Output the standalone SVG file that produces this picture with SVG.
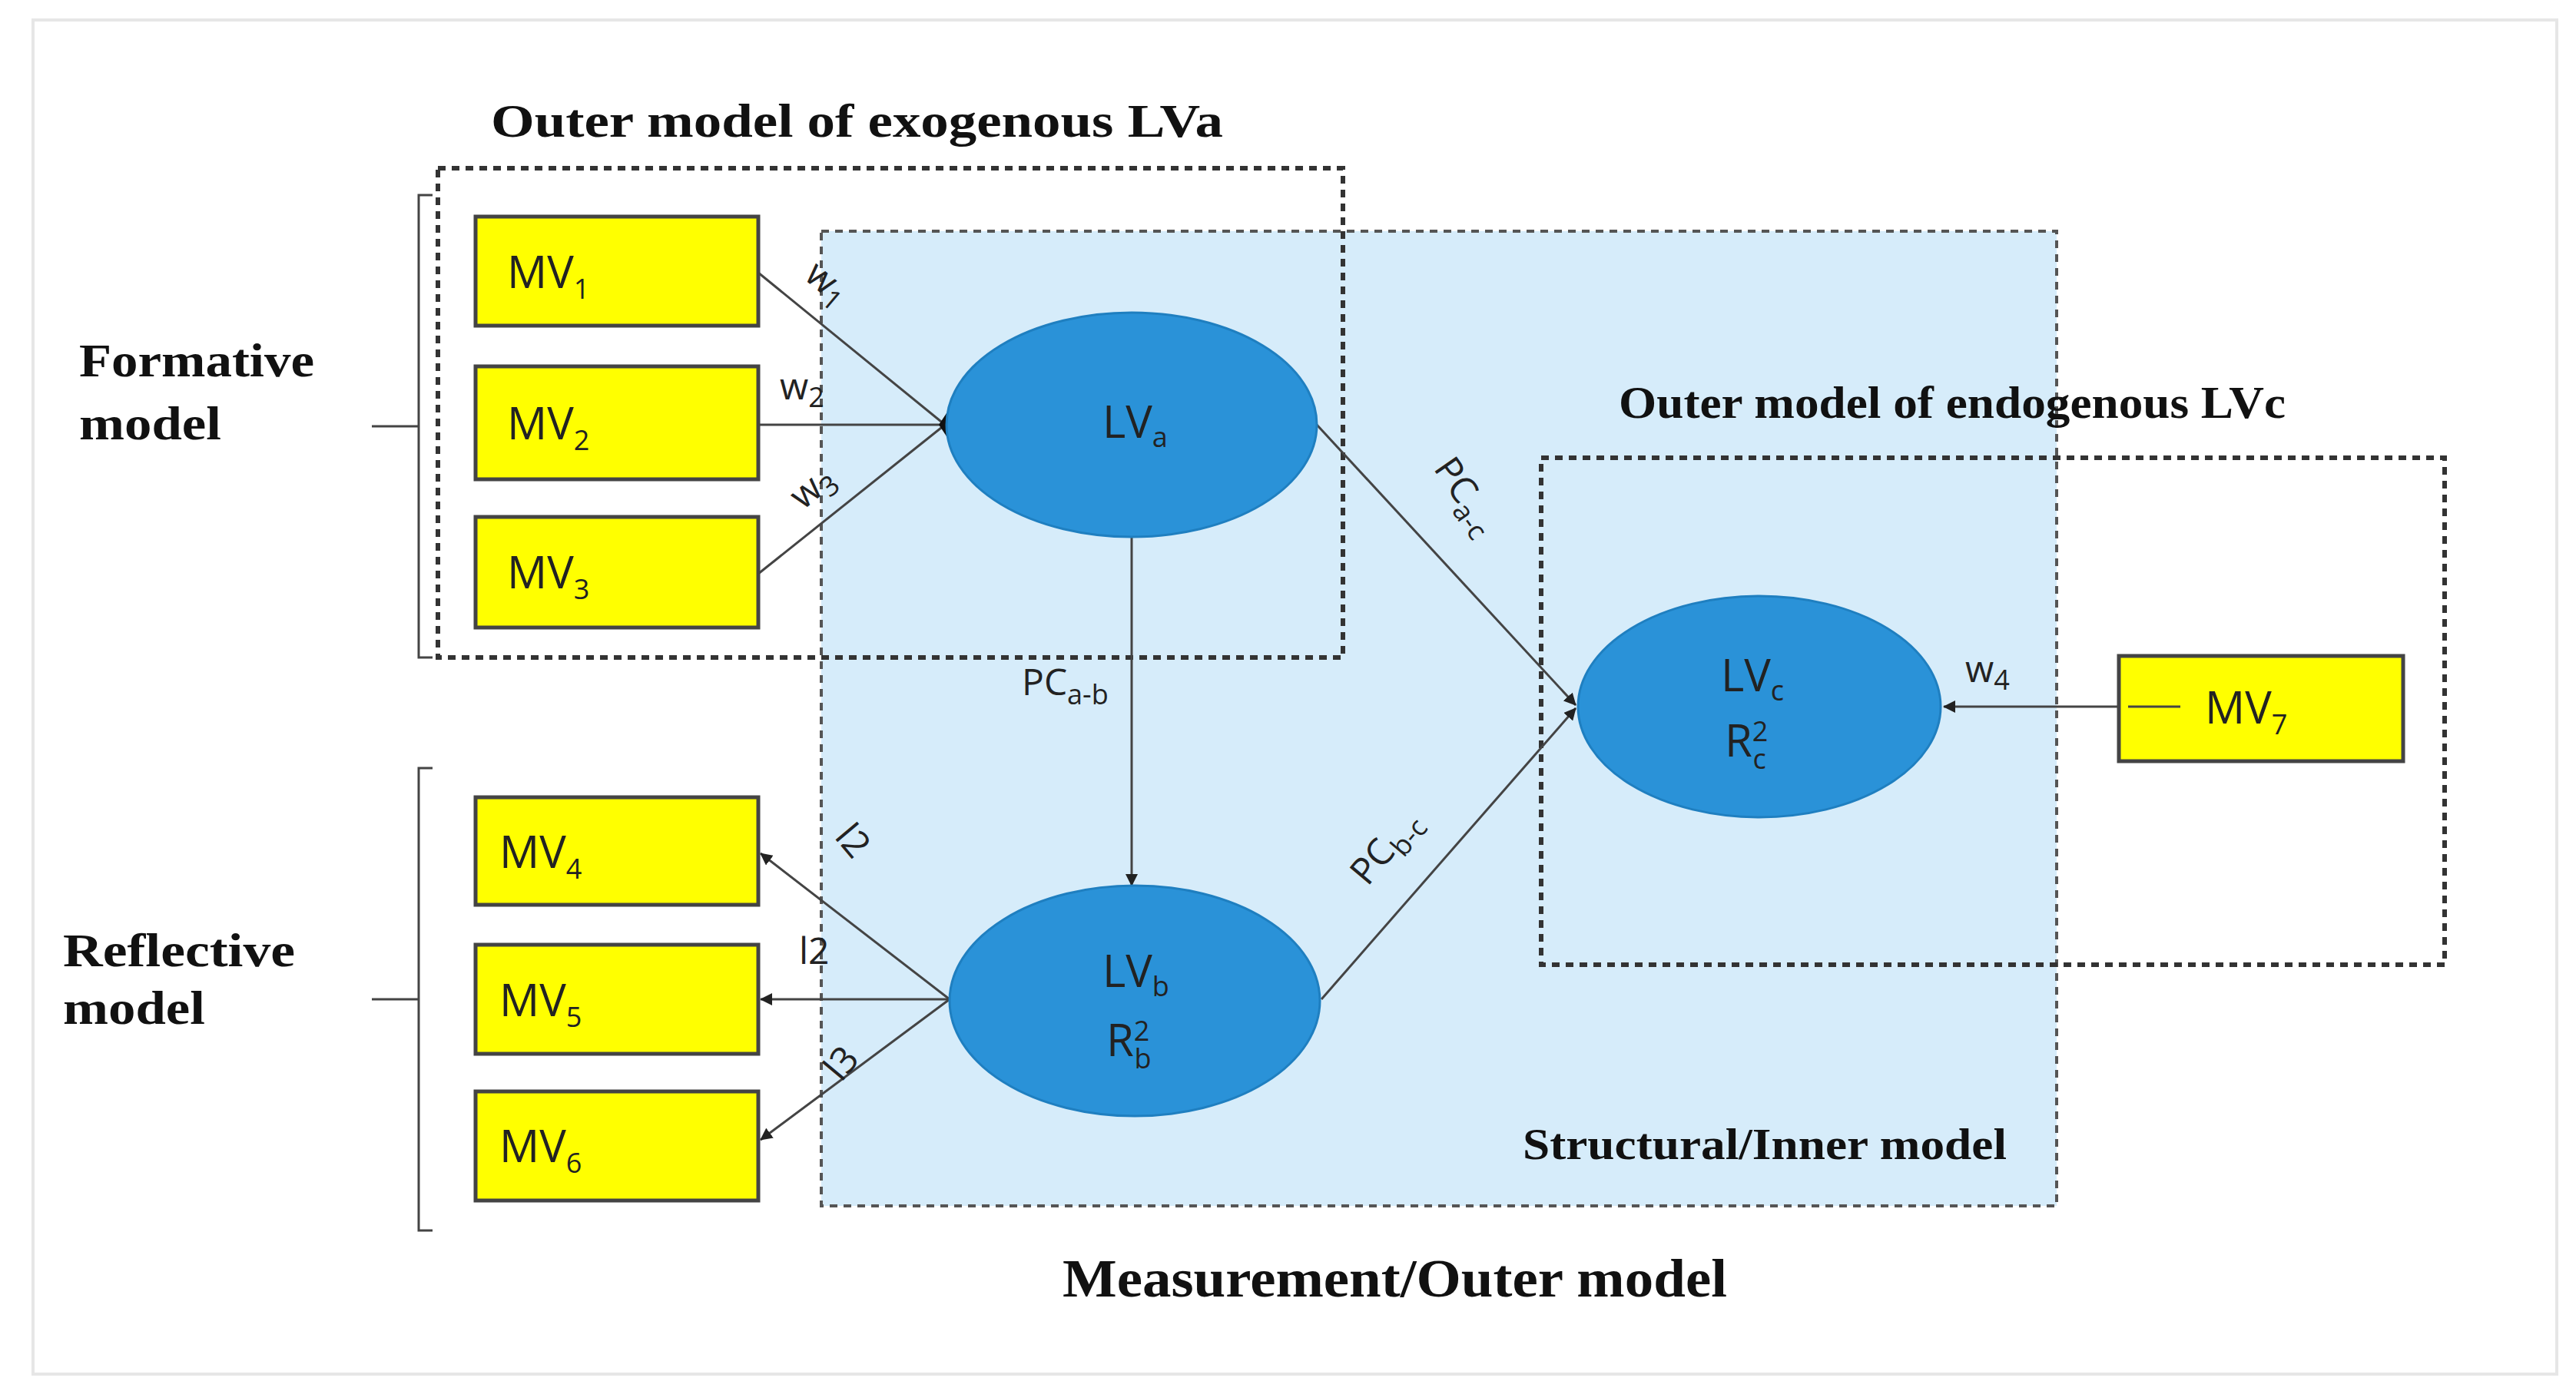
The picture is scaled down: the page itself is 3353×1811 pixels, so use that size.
<svg xmlns="http://www.w3.org/2000/svg" width="3353" height="1811" viewBox="0 0 3353 1811">
<style>
.t{font-family:"Liberation Serif",serif;font-weight:bold;fill:#111}
.mv{fill:#ffff00;stroke:#444;stroke-width:5}
.mvt{font-family:"Open Sans","Liberation Sans",sans-serif;font-size:58px;fill:#222}
.sub{font-size:36px}
.lv{fill:#2a92d8;stroke:#1f7fc0;stroke-width:3}
.box{fill:none;stroke:#333;stroke-width:6;stroke-dasharray:10 8}
.c{stroke:#444;stroke-width:3;fill:none}
.lb{font-family:"Open Sans","Liberation Sans",sans-serif;font-size:48px;fill:#222}
</style>
<defs>
<marker id="a2" markerWidth="16" markerHeight="16" refX="15" refY="8" orient="auto" markerUnits="userSpaceOnUse"><path d="M0,0 L16,8 L0,16 z" fill="#222"/></marker>
</defs>
<rect x="0" y="0" width="3353" height="1811" fill="#fff"/>
<rect x="43" y="26" width="3285" height="1763" fill="#fff" stroke="#e6e6e6" stroke-width="4"/>
<g id="structural"><rect x="1069" y="301" width="1608" height="1269" fill="#d6ecfa" stroke="#555" stroke-width="4" stroke-dasharray="10 8"/>
<text class="t" x="1982" y="1509" font-size="58" textLength="630" lengthAdjust="spacingAndGlyphs">Structural/Inner model</text></g>
<g id="exo-box"><rect class="box" x="570" y="219" width="1178" height="637"/>
<text class="t" x="639" y="178" font-size="62" textLength="953" lengthAdjust="spacingAndGlyphs">Outer model of exogenous LVa</text></g>
<g id="endo-box"><rect class="box" x="2006" y="596" width="1176" height="660"/>
<text class="t" x="2107" y="544" font-size="60" textLength="868" lengthAdjust="spacingAndGlyphs">Outer model of endogenous LVc</text></g>
<g id="formative"><path class="c" d="M563,254 H545 V856 H563 M545,555 H484" stroke="#666"/>
<text class="t" x="103" y="490" font-size="62" textLength="306" lengthAdjust="spacingAndGlyphs">Formative</text>
<text class="t" x="103" y="572" font-size="62" textLength="185" lengthAdjust="spacingAndGlyphs">model</text></g>
<g id="reflective"><path class="c" d="M563,1000 H545 V1602 H563 M545,1301 H484" stroke="#666"/>
<text class="t" x="82" y="1258" font-size="62" textLength="302" lengthAdjust="spacingAndGlyphs">Reflective</text>
<text class="t" x="82" y="1333" font-size="62" textLength="185" lengthAdjust="spacingAndGlyphs">model</text></g>
<g id="connectors">
<path class="c" d="M987,355 L1230,553"/>
<path class="c" d="M987,553 L1230,553" stroke-width="6" stroke="#666"/>
<path class="c" d="M987,747 L1230,553"/>
<path d="M1222,553 L1232,538 L1240,553 L1232,568 z" fill="#111"/>
<path class="c" d="M1473,699 L1473,1153" marker-end="url(#a2)"/>
<path class="c" d="M1236,1301 L990,1111" marker-end="url(#a2)"/>
<path class="c" d="M1236,1301 L990,1301" marker-end="url(#a2)" stroke="#888"/>
<path class="c" d="M1236,1301 L990,1484" marker-end="url(#a2)"/>
<path class="c" d="M1714,553 L2051,918" marker-end="url(#a2)"/>
<path class="c" d="M1720,1301 L2051,922" marker-end="url(#a2)"/>
<path class="c" d="M2838,920 L2530,920" marker-end="url(#a2)"/>
<text class="lb" transform="translate(1045,362) rotate(40)">w<tspan class="sub" dy="10">1</tspan></text>
<text class="lb" x="1015" y="520">w<tspan class="sub" dy="10">2</tspan></text>
<text class="lb" transform="translate(1045,665) rotate(-40)">w<tspan class="sub" dy="10">3</tspan></text>
<text class="lb" transform="translate(1085,1090) rotate(50)">l2</text>
<text class="lb" x="1040" y="1255">l2</text>
<text class="lb" transform="translate(1095,1410) rotate(-50)">l3</text>
<text class="lb" x="1330" y="905">PC<tspan class="sub" dy="12">a-b</tspan></text>
<text class="lb" transform="translate(1865,610) rotate(55)">PC<tspan class="sub" dy="12">a-c</tspan></text>
<text class="lb" transform="translate(1780,1155) rotate(-50)">PC<tspan class="sub" dy="12">b-c</tspan></text>
<text class="lb" x="2558" y="888">w<tspan class="sub" dy="10">4</tspan></text>
</g>
<g id="MV1"><rect class="mv" x="619" y="282" width="368" height="142"/><text class="mvt" x="660" y="375">MV<tspan class="sub" dy="14">1</tspan></text></g>
<g id="MV2"><rect class="mv" x="619" y="477" width="368" height="147"/><text class="mvt" x="660" y="572">MV<tspan class="sub" dy="14">2</tspan></text></g>
<g id="MV3"><rect class="mv" x="619" y="673" width="368" height="144"/><text class="mvt" x="660" y="766">MV<tspan class="sub" dy="14">3</tspan></text></g>
<g id="MV4"><rect class="mv" x="619" y="1038" width="368" height="140"/><text class="mvt" x="650" y="1130">MV<tspan class="sub" dy="14">4</tspan></text></g>
<g id="MV5"><rect class="mv" x="619" y="1230" width="368" height="142"/><text class="mvt" x="650" y="1323">MV<tspan class="sub" dy="14">5</tspan></text></g>
<g id="MV6"><rect class="mv" x="619" y="1421" width="368" height="142"/><text class="mvt" x="650" y="1513">MV<tspan class="sub" dy="14">6</tspan></text></g>
<g id="MV7"><rect class="mv" x="2758" y="854" width="370" height="137"/><path class="c" d="M2770,920 H2838"/><text class="mvt" x="2870" y="942">MV<tspan class="sub" dy="14">7</tspan></text></g>
<g id="LVa"><ellipse class="lv" cx="1473" cy="553" rx="241" ry="146"/><text class="mvt" x="1435" y="570" font-size="54">LV<tspan class="sub" dy="12">a</tspan></text></g>
<g id="LVb"><ellipse class="lv" cx="1477" cy="1303" rx="241" ry="150"/><text class="mvt" x="1435" y="1285" font-size="54">LV<tspan class="sub" dy="12">b</tspan></text><text class="mvt" x="1440" y="1375" font-size="54">R<tspan class="sub" dy="-20">2</tspan><tspan class="sub" dy="36" dx="-20">b</tspan></text></g>
<g id="LVc"><ellipse class="lv" cx="2290" cy="920" rx="236" ry="144"/><text class="mvt" x="2240" y="900" font-size="54">LV<tspan class="sub" dy="12">c</tspan></text><text class="mvt" x="2245" y="985" font-size="54">R<tspan class="sub" dy="-20">2</tspan><tspan class="sub" dy="36" dx="-20">c</tspan></text></g>
<text class="t" x="1383" y="1688" font-size="70" textLength="865" lengthAdjust="spacingAndGlyphs">Measurement/Outer model</text>
</svg>
